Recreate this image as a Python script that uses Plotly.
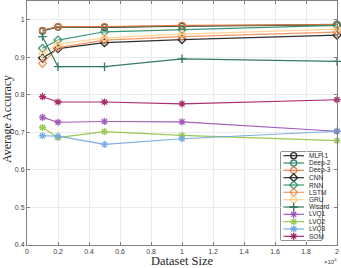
import plotly.graph_objects as go

dataset_sizes = [1000, 2000, 5000, 10000, 20000]

series_names = ["MLP-1", "Deep-2", "Deep-3", "CNN", "RNN", "LSTM", "GRU",
                "Wisard", "LVQ1", "LVQ2", "LVQ3", "SOM"]

mlp1 = [0.970, 0.981, 0.980, 0.983, 0.986]
deep2 = [0.971, 0.982, 0.981, 0.984, 0.988]
deep3 = [0.972, 0.982, 0.982, 0.985, 0.987]
cnn = [0.898, 0.923, 0.939, 0.947, 0.959]
rnn = [0.924, 0.946, 0.968, 0.974, 0.985]
lstm = [0.884, 0.926, 0.946, 0.955, 0.967]
gru = [0.910, 0.935, 0.952, 0.962, 0.975]
wisard = [0.955, 0.875, 0.875, 0.896, 0.889]
lvq1 = [0.740, 0.727, 0.729, 0.728, 0.703]
lvq2 = [0.713, 0.686, 0.702, 0.692, 0.678]
lvq3 = [0.691, 0.690, 0.668, 0.683, 0.703]
som = [0.795, 0.781, 0.781, 0.776, 0.787]

x_tick_vals = [0, 2000, 4000, 6000, 8000, 10000, 12000, 14000, 16000, 18000, 20000]
x_tick_text = ["0", "0.2", "0.4", "0.6", "0.8", "1", "1.2", "1.4", "1.6", "1.8", "2"]
y_tick_vals = [0.4, 0.5, 0.6, 0.7, 0.8, 0.9, 1.0]
y_tick_text = ["0.4", "0.5", "0.6", "0.7", "0.8", "0.9", "1"]

values = [mlp1, deep2, deep3, cnn, rnn, lstm, gru, wisard, lvq1, lvq2, lvq3, som]
colors = ["#1a1a1a", "#1f7a5c", "#e8733c", "#1a1a1a", "#2a8a68", "#f08c55",
          "#ffcf8a", "#1f6e50", "#9a4db3", "#8ec445", "#6fa6e0", "#a0195c"]
symbols = ["circle-open", "circle-open", "circle-open", "diamond-open", "diamond-open",
           "diamond-open", "diamond-open", "cross-thin-open", "asterisk-open",
           "asterisk-open", "asterisk-open", "asterisk-open"]

W, H = 341, 268
L, R, T, B = 27, 4, 1, 23
pw, ph = W - L - R, H - T - B

fig = go.Figure()
for name, vals, col, sym in zip(series_names, values, colors, symbols):
    fig.add_trace(go.Scatter(
        x=dataset_sizes, y=vals, mode="lines+markers", name=name,
        line=dict(color=col, width=1.2),
        marker=dict(symbol=sym, size=6, color=col, line=dict(color=col, width=1.3)),
        opacity=0.9, showlegend=False, xaxis="x", yaxis="y", cliponaxis=False))

# custom compact legend drawn on an overlay axis
lx0, lx1, ly0, ly1 = 281, 322, 152, 240


def px2paper_x(px):
    return (px - L) / pw


def px2paper_y(py):
    return (H - B - py) / ph


fig.add_shape(type="rect", xref="paper", yref="paper",
              x0=px2paper_x(lx0), x1=px2paper_x(lx1),
              y0=px2paper_y(ly1), y1=px2paper_y(ly0),
              line=dict(color="#262626", width=1), fillcolor="white", layer="between")

n = len(series_names)
for i, (name, col, sym) in enumerate(zip(series_names, colors, symbols)):
    yy = 1 - (i + 0.5) / n
    fig.add_trace(go.Scatter(x=[0.06, 0.56], y=[yy, yy], mode="lines",
                             line=dict(color=col, width=1.2), opacity=0.9,
                             showlegend=False, hoverinfo="skip",
                             xaxis="x2", yaxis="y2"))
    fig.add_trace(go.Scatter(x=[0.31], y=[yy], mode="markers",
                             marker=dict(symbol=sym, size=6, color=col,
                                         line=dict(color=col, width=1.3)),
                             opacity=0.9, showlegend=False, hoverinfo="skip",
                             xaxis="x2", yaxis="y2"))
    ty = px2paper_y(ly0 + (i + 0.5) * (ly1 - ly0) / n)
    fig.add_annotation(x=px2paper_x(lx0 + 26), y=ty, xref="paper", yref="paper",
                       text=name, showarrow=False, xanchor="left", yanchor="middle",
                       font=dict(family="Liberation Sans", size=6.5, color="#262626"))

tick_font = dict(family="Liberation Sans", size=7, color="#404040")
fig.update_layout(
    template="none",
    width=W, height=H, margin=dict(l=L, r=R, t=T, b=B, autoexpand=False),
    paper_bgcolor="white", plot_bgcolor="white",
    xaxis=dict(range=[0, 20000], tickvals=x_tick_vals, ticktext=x_tick_text,
               showgrid=True, gridcolor="#ebebeb", gridwidth=1, automargin=False,
               showline=True, linecolor="#808080", linewidth=1, mirror="ticks",
               ticks="inside", ticklen=3, tickcolor="#808080",
               tickfont=tick_font, zeroline=False),
    yaxis=dict(range=[0.4, 1.05], tickvals=y_tick_vals, ticktext=y_tick_text,
               showgrid=True, gridcolor="#ebebeb", gridwidth=1, automargin=False,
               showline=True, linecolor="#808080", linewidth=1, mirror="ticks",
               ticks="inside", ticklen=3, tickcolor="#808080",
               tickfont=tick_font, zeroline=False),
    xaxis2=dict(domain=[px2paper_x(lx0), px2paper_x(lx1)], range=[0, 1],
                visible=False, anchor="y2", automargin=False),
    yaxis2=dict(domain=[px2paper_y(ly1), px2paper_y(ly0)], range=[0, 1],
                visible=False, anchor="x2", automargin=False),
)

fig.add_annotation(x=px2paper_x(182), y=px2paper_y(261), xref="paper", yref="paper",
                   text="Dataset Size", showarrow=False,
                   xanchor="center", yanchor="middle",
                   font=dict(family="Liberation Serif", size=12.5, color="#262626"))
fig.add_annotation(x=px2paper_x(7), y=px2paper_y(119), xref="paper", yref="paper",
                   text="Average Accuracy", showarrow=False, textangle=-90,
                   xanchor="center", yanchor="middle",
                   font=dict(family="Liberation Serif", size=12, color="#262626"))
fig.add_annotation(x=px2paper_x(339), y=px2paper_y(261), xref="paper", yref="paper",
                   text="×10<sup>4</sup>", showarrow=False,
                   xanchor="right", yanchor="middle",
                   font=dict(family="Liberation Sans", size=6, color="#404040"))

fig.write_html("out.html", config={"displayModeBar": False},
               post_script="document.body.style.margin='0';document.body.style.padding='0';")
